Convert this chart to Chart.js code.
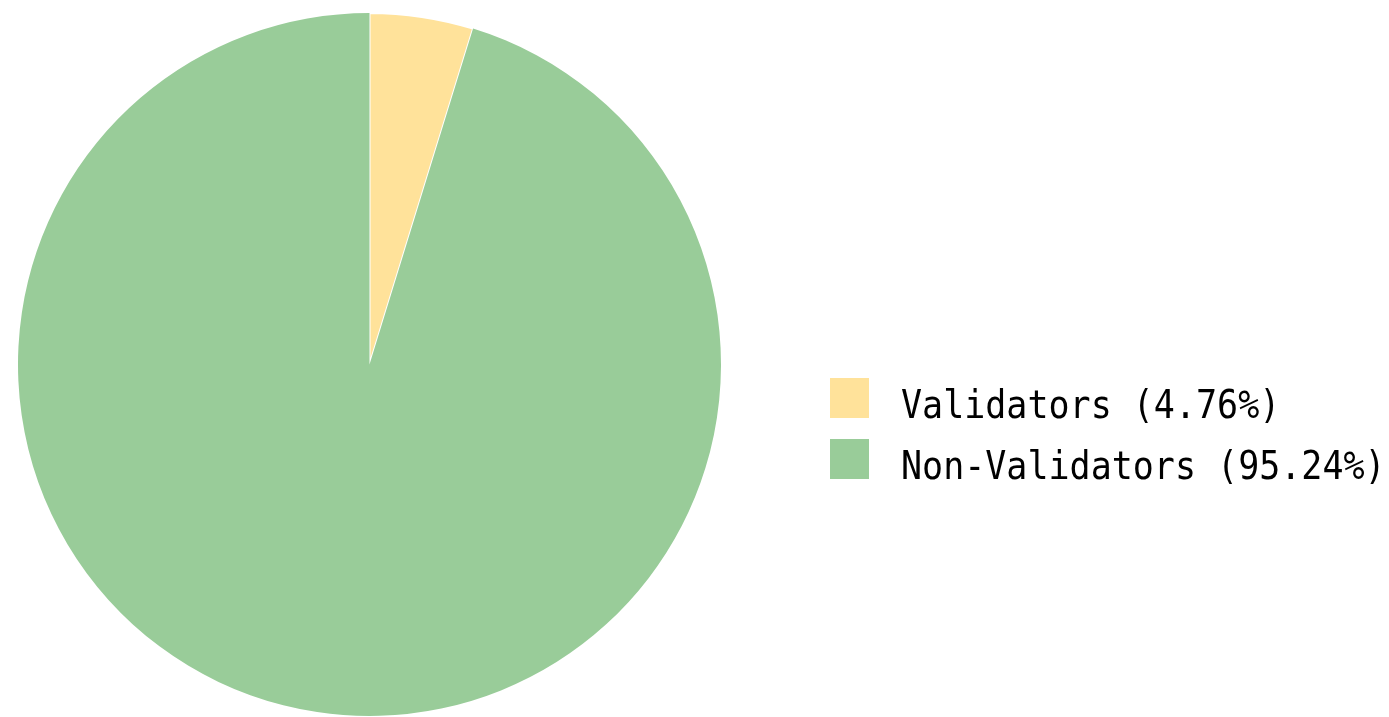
<!DOCTYPE html>
<html>
<head>
<meta charset="utf-8">
<script src="https://cdn.jsdelivr.net/npm/chart.js@4/dist/chart.umd.min.js"></script>
<style>
  html, body { margin: 0; padding: 0; background: #fff; }
  #wrap { position: relative; width: 1389px; height: 717px; }
</style>
</head>
<body>
<div id="wrap"><canvas id="chart-pie" width="1389" height="717"></canvas></div>
<script>
/* ─── Data ─────────────────────────────────────────────── */
const LABELS  = ['Validators', 'Non-Validators'];
const SHARES  = [4.76, 95.24];
const COLORS  = ['#ffe29a', '#99cc99'];

/* ─── Legend drawn on the canvas, to the right of the pie ─ */
const sideLegend = {
  id: 'sideLegend',
  afterDraw(chart) {
    const ctx = chart.ctx;
    const meta = chart.getDatasetMeta(0);
    ctx.save();
    ctx.font = "35px 'DejaVu Sans Mono', monospace";
    ctx.textBaseline = 'alphabetic';
    meta.data.forEach((arc, i) => {
      const top = 378 + i * 61;
      ctx.fillStyle = COLORS[i];
      ctx.fillRect(830, top, 39, 40);
      ctx.fillStyle = '#000';
      ctx.save();
      ctx.translate(901, top + 40);
      ctx.scale(1, 1.1);
      ctx.fillText(`${LABELS[i]} (${SHARES[i].toFixed(2)}%)`, 0, 0);
      ctx.restore();
    });
    ctx.restore();
  },
};

new Chart(document.getElementById('chart-pie').getContext('2d'), {
  type: 'pie',
  data: {
    labels: LABELS,
    datasets: [{
      data:            SHARES,
      backgroundColor: COLORS,
      borderColor:     '#ffffff',
      borderWidth:     [2, 0],
    }],
  },
  options: {
    responsive: false,
    animation:  false,
    layout: { padding: { left: 15, top: 12, right: 665, bottom: -2 } },
    plugins: {
      legend:  { display: false },
      tooltip: { enabled: false },
    },
  },
  plugins: [sideLegend],
});
</script>
</body>
</html>
